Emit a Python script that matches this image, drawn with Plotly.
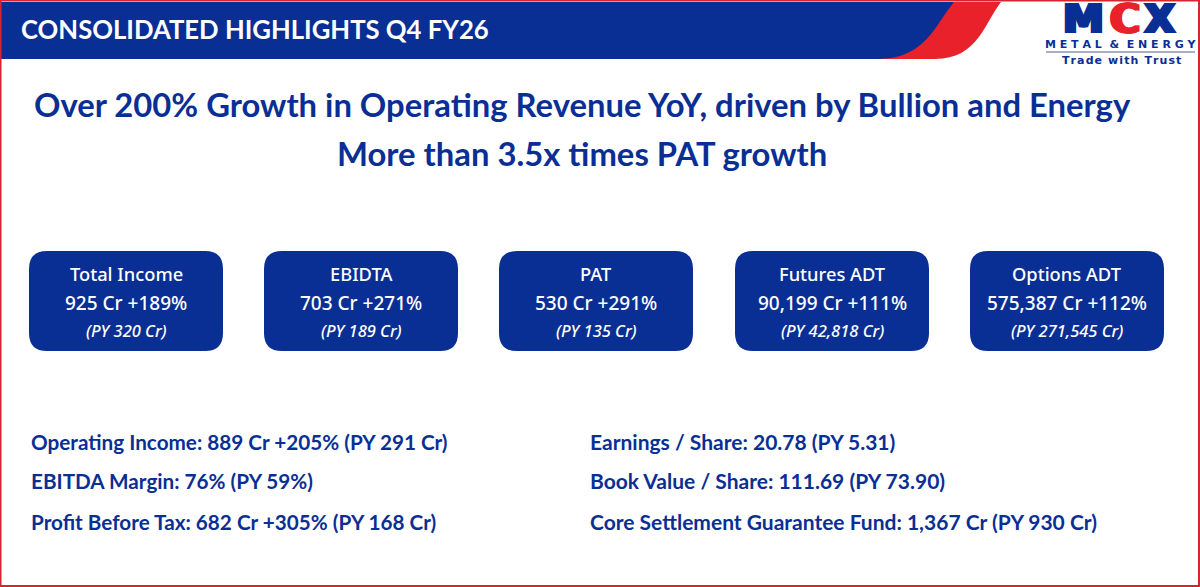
import plotly.graph_objects as go

slide_title = "CONSOLIDATED HIGHLIGHTS Q4 FY26"
headlines = ["Over 200% Growth in Operating Revenue YoY, driven by Bullion and Energy",
             "More than 3.5x times PAT growth"]

card_names = ["Total Income", "EBIDTA", "PAT", "Futures ADT", "Options ADT"]
card_values = ["925 Cr +189%", "703 Cr +271%", "530 Cr +291%", "90,199 Cr +111%", "575,387 Cr +112%"]
card_prior = ["(PY 320 Cr)", "(PY 189 Cr)", "(PY 135 Cr)", "(PY 42,818 Cr)", "(PY 271,545 Cr)"]

left_notes = ["Operating Income: 889 Cr +205% (PY 291 Cr)",
              "EBITDA Margin: 76% (PY 59%)",
              "Profit Before Tax: 682 Cr +305% (PY 168 Cr)"]
right_notes = ["Earnings / Share: 20.78 (PY 5.31)",
               "Book Value / Share: 111.69 (PY 73.90)",
               "Core Settlement Guarantee Fund: 1,367 Cr (PY 930 Cr)"]

BLUE = "#0A2F94"
RED = "#E8212B"
CARD_FONT = "Noto Sans"
TEXT_FONT = "Lato"
HAIR = "\u200a"


def rounded_box(x0, x1, y0, y1, r):
    return (f"M {x0+r} {y0} L {x1-r} {y0} Q {x1} {y0} {x1} {y0+r} L {x1} {y1-r} "
            f"Q {x1} {y1} {x1-r} {y1} L {x0+r} {y1} Q {x0} {y1} {x0} {y1-r} "
            f"L {x0} {y0+r} Q {x0} {y0} {x0+r} {y0} Z")


def add_text(fig, x, y, text, size, color=BLUE, family=TEXT_FONT, weight=700, anchor="left", style="normal", shadow="none"):
    fig.add_annotation(x=x, y=y, text=text, showarrow=False, xanchor=anchor, yanchor="middle",
                       font=dict(size=size, color=color, family=family, weight=weight, style=style, shadow=shadow))


fig = go.Figure()

# banner, red swoosh goes under the blue one
fig.add_shape(type="path", line_width=0, fillcolor=RED,
              path="M 900 2 L 1001 2 C 985 22 978 59 935 59 L 870 59 Z")
fig.add_shape(type="path", line_width=0, fillcolor=BLUE,
              path="M 0 2 L 954 2 C 935 25 925 59 878 59 L 0 59 Z")
add_text(fig, 19, 29, slide_title, 25.7, color="white")

# logo, the shadow fattens the letters up to the wide logo face
for x, letter, col, fat in [(1083, "M", BLUE, 2), (1160, "X", BLUE, 2), (1125, "C", RED, 2)]:
    layers = [f"{s*k}px 0 0 {col}" for k in range(1, fat + 1) for s in (1, -1)]
    add_text(fig, x, 19, letter, 41, color=col, family="DejaVu Sans", anchor="center", shadow=", ".join(layers))
add_text(fig, 1121, 44, "M E T A L  &  E N E R G Y", 11, family="DejaVu Sans", anchor="center")
fig.add_shape(type="line", x0=1046, x1=1195, y0=52, y1=52, line=dict(color="#8E96B0", width=1.5))
add_text(fig, 1121, 60, HAIR.join("Trade with Trust"), 11, family="DejaVu Sans", anchor="center")

add_text(fig, 582, 104.5, headlines[0], 32.8, anchor="center")
add_text(fig, 582, 153.5, headlines[1], 32.8, anchor="center")

card_left = [29, 264, 499, 735, 970]
for i in range(len(card_names)):
    x0 = card_left[i]
    mid = x0 + 97
    fig.add_shape(type="path", path=rounded_box(x0, x0 + 194, 251, 351, 18),
                  line_width=0, fillcolor=BLUE)
    add_text(fig, mid, 273, card_names[i], 18.3, color="white", family=CARD_FONT, weight=500, anchor="center")
    add_text(fig, mid, 303, card_values[i], 19, color="white", family=CARD_FONT, weight=500, anchor="center")
    add_text(fig, mid, 330, card_prior[i], 16.5, color="white", family=CARD_FONT, weight=500, anchor="center", style="italic")

note_y = [442, 481, 522]
for i in range(3):
    add_text(fig, 29, note_y[i], left_notes[i], 20.7)
    add_text(fig, 588, note_y[i] - 1, right_notes[i], 21)

# slide border
fig.add_shape(type="rect", x0=0.5, x1=1199, y0=0.5, y1=586, line=dict(color="#D5252E", width=2))

fig.update_layout(width=1200, height=587, margin=dict(l=0, r=0, t=0, b=0),
                  paper_bgcolor="white", plot_bgcolor="white", showlegend=False,
                  xaxis=dict(range=[0, 1200], visible=False, fixedrange=True),
                  yaxis=dict(range=[587, 0], visible=False, fixedrange=True))

fig.write_html("out.html", config=dict(displayModeBar=False),
               post_script="document.body.style.margin='0';document.body.style.overflow='hidden';")
